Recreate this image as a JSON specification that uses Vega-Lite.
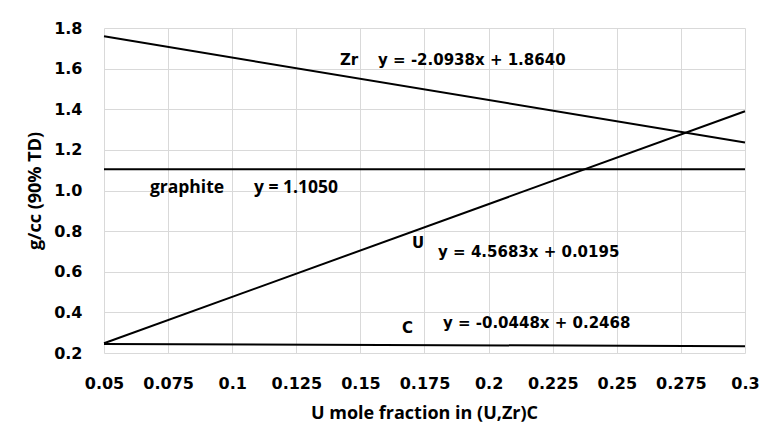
{
  "$schema": "https://vega.github.io/schema/vega-lite/v6.json",
  "width": 641,
  "height": 325,
  "autosize": {"type": "none"},
  "padding": {"left": 104, "top": 28, "right": 20, "bottom": 88},
  "background": "white",
  "datasets": {
    "fits": [
      {"series": "Zr", "x": 0.05, "y": 1.7593},
      {"series": "Zr", "x": 0.3, "y": 1.2359},
      {"series": "graphite", "x": 0.05, "y": 1.105},
      {"series": "graphite", "x": 0.3, "y": 1.105},
      {"series": "U", "x": 0.05, "y": 0.2479},
      {"series": "U", "x": 0.3, "y": 1.39},
      {"series": "C", "x": 0.05, "y": 0.2446},
      {"series": "C", "x": 0.3, "y": 0.2334}
    ],
    "labels": [
      {"x": 0.142, "y": 1.6425, "text": "Zr", "face": "sans"},
      {"x": 0.1569, "y": 1.6425, "text": "y = -2.0938x + 1.8640", "face": "sans"},
      {"x": 0.0679, "y": 1.0123, "text": "graphite", "face": "open"},
      {"x": 0.1085, "y": 1.0123, "text": "y = 1.1050", "face": "open"},
      {"x": 0.1701, "y": 0.7415, "text": "U", "face": "sans"},
      {"x": 0.1803, "y": 0.6972, "text": "y = 4.5683x + 0.0195", "face": "sans"},
      {"x": 0.1662, "y": 0.3231, "text": "C", "face": "sans"},
      {"x": 0.1822, "y": 0.3477, "text": "y = -0.0448x + 0.2468", "face": "sans"}
    ]
  },
  "config": {
    "view": {"stroke": null},
    "axis": {
      "domain": false,
      "ticks": false,
      "gridColor": "#d9d9d9",
      "gridWidth": 1,
      "labelFont": "DejaVu Sans",
      "labelFontWeight": "bold",
      "labelFontSize": 16,
      "labelColor": "#000000",
      "titleFont": "Open Sans",
      "titleFontWeight": "bold",
      "titleFontSize": 18,
      "titleColor": "#000000"
    }
  },
  "layer": [
    {
      "data": {"name": "fits"},
      "mark": {"type": "line", "color": "#000000", "strokeWidth": 2},
      "encoding": {
        "x": {
          "field": "x",
          "type": "quantitative",
          "scale": {"domain": [0.05, 0.3], "nice": false, "zero": false},
          "axis": {
            "title": "U mole fraction in (U,Zr)C",
            "values": [0.05, 0.075, 0.1, 0.125, 0.15, 0.175, 0.2, 0.225, 0.25, 0.275, 0.3],
            "format": ".3~f",
            "labelPadding": 22,
            "labelFlush": false,
            "titleX": 320,
            "titleY": 60,
            "titleBaseline": "middle"
          }
        },
        "y": {
          "field": "y",
          "type": "quantitative",
          "scale": {"domain": [0.2, 1.8], "nice": false, "zero": false},
          "axis": {
            "title": "g/cc (90% TD)",
            "values": [0.2, 0.4, 0.6, 0.8, 1.0, 1.2, 1.4, 1.6, 1.8],
            "format": ".1f",
            "labelPadding": 22,
            "labelFlush": false,
            "titleX": -69,
            "titleY": 162.5,
            "titleAlign": "center",
            "titleBaseline": "middle",
            "titleAngle": -90
          }
        },
        "detail": {"field": "series"}
      }
    },
    {
      "data": {"name": "labels"},
      "transform": [{"filter": "datum.face === 'sans'"}],
      "mark": {"type": "text", "font": "DejaVu Sans", "fontWeight": "bold", "fontSize": 15, "align": "left", "baseline": "middle", "color": "#000000"},
      "encoding": {
        "x": {"field": "x", "type": "quantitative"},
        "y": {"field": "y", "type": "quantitative"},
        "text": {"field": "text"}
      }
    },
    {
      "data": {"name": "labels"},
      "transform": [{"filter": "datum.face === 'open'"}],
      "mark": {"type": "text", "font": "Open Sans", "fontWeight": "bold", "fontSize": 17.5, "align": "left", "baseline": "middle", "color": "#000000"},
      "encoding": {
        "x": {"field": "x", "type": "quantitative"},
        "y": {"field": "y", "type": "quantitative"},
        "text": {"field": "text"}
      }
    }
  ]
}
